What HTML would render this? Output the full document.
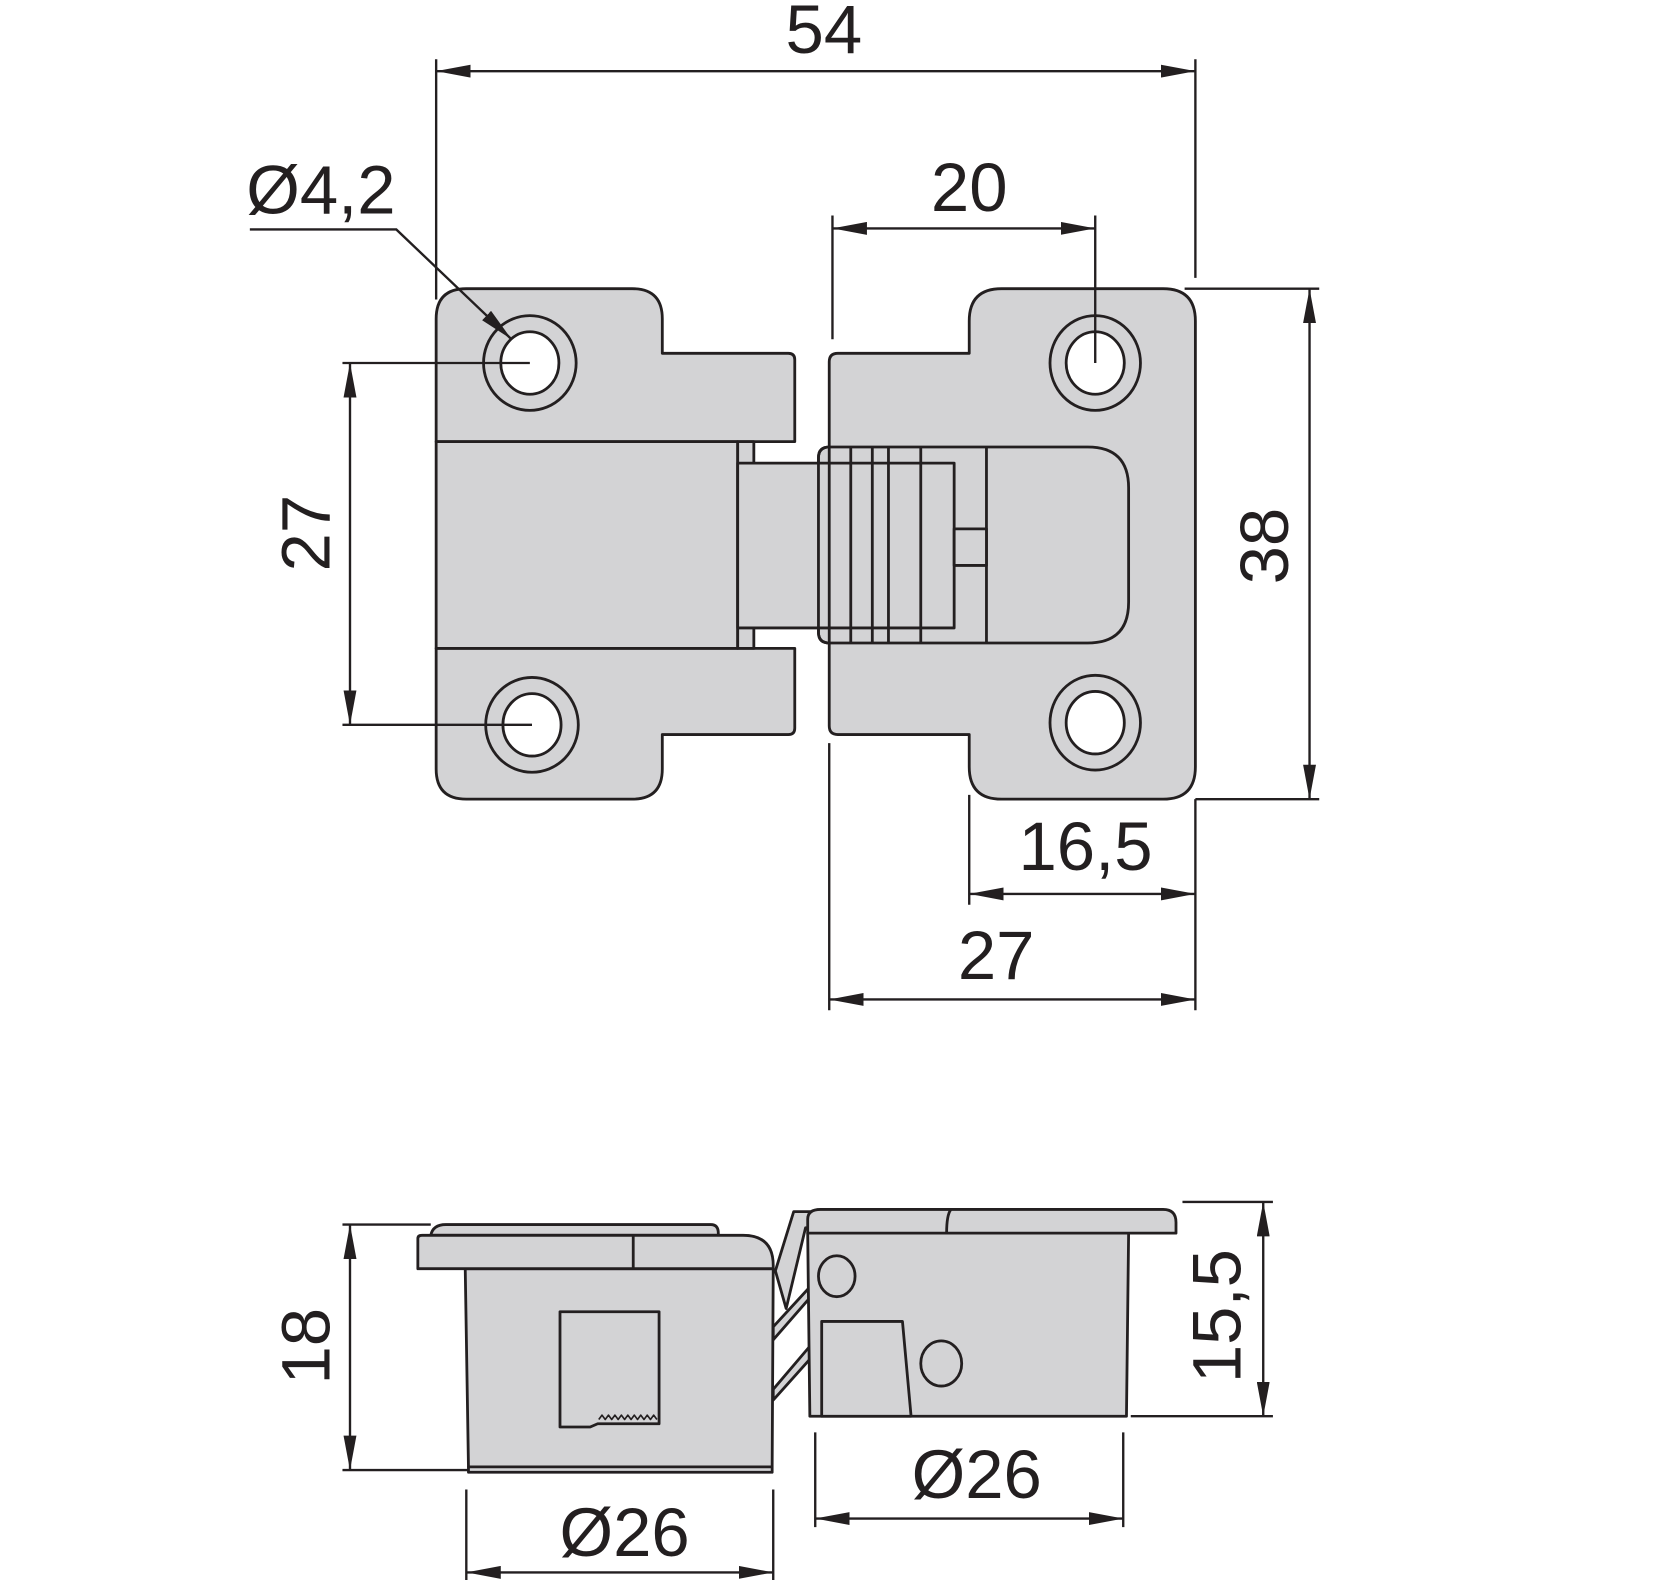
<!DOCTYPE html>
<html><head><meta charset="utf-8"><style>html,body{margin:0;padding:0;background:#fff}svg{display:block}</style></head>
<body>
<svg width="1680" height="1580" viewBox="0 0 1560 1467" xmlns="http://www.w3.org/2000/svg" font-family="Liberation Sans, sans-serif">
<defs>
<marker id="a" viewBox="0 0 32 12" refX="32" refY="6" markerWidth="32" markerHeight="12" markerUnits="userSpaceOnUse" orient="auto-start-reverse"><path d="M0,0 L32,6 L0,12 Z" fill="#231f20"/></marker>
</defs>
<g fill="#d3d3d5" stroke="#231f20" stroke-width="2.6" stroke-linejoin="round">
<path d="M405,296 Q405,268 433,268 L587,268 Q615,268 615,296 L615,328 L732,328 Q738,328 738,334 L738,410 L405,410 Z"/>
<path d="M405,602 L738,602 L738,676 Q738,682 732,682 L615,682 L615,714 Q615,742 587,742 L433,742 Q405,742 405,714 Z"/>
<rect x="405" y="410" width="280" height="192"/>
<rect x="685" y="410" width="15" height="192"/>
<path d="M778,328 L900,328 L900,298 Q900,268 930,268 L1080,268 Q1110,268 1110,298 L1110,712 Q1110,742 1080,742 L930,742 Q900,742 900,712 L900,682 L778,682 Q770,682 770,674 L770,336 Q770,328 778,328 Z"/>
<path d="M770,415 L1010,415 Q1048,415 1048,453 L1048,559 Q1048,597 1010,597 L770,597 Q760,597 760,587 L760,425 Q760,415 770,415 Z"/>
<rect x="685" y="430" width="201" height="153"/>
<path d="M760,425 Q760,415 770,415 L770,597 Q760,597 760,587 Z" fill="none"/>
<path d="M790,415 V597 M810,415 V597 M825,415 V597 M855,415 V597 M916,415 V597" fill="none"/>
<rect x="886" y="491" width="30" height="34"/>
<ellipse cx="492" cy="337" rx="43" ry="44"/><ellipse cx="492" cy="337" rx="27" ry="29" fill="#fff"/>
<ellipse cx="494" cy="673" rx="43" ry="44"/><ellipse cx="494" cy="673" rx="27" ry="29" fill="#fff"/>
<ellipse cx="1017" cy="337" rx="42" ry="44"/><ellipse cx="1017" cy="337" rx="27" ry="29" fill="#fff"/>
<ellipse cx="1017" cy="671" rx="42" ry="44"/><ellipse cx="1017" cy="671" rx="27" ry="29" fill="#fff"/>

<path d="M400,1147 Q402,1137 414,1137 L660,1137 Q667,1137 667,1145 L667,1147 Z"/>
<path d="M720,1180 L737,1125 L762,1125 L762,1140 L748,1140 L730,1215 Z"/>
<path d="M718,1232 L752,1195 L752,1205 L718,1244 Z"/>
<path d="M718,1290 L752,1250 L752,1262 L718,1300 Z"/>
<path d="M432,1178 L718,1178 L717,1362 L435,1362 Z"/>
<rect x="435" y="1362" width="282" height="5"/>
<path d="M388,1150 Q388,1147 392,1147 L690,1147 Q718,1147 718,1175 L718,1178 L388,1178 Z"/>
<path d="M588,1147 V1178" fill="none"/>
<path d="M520,1218 L612,1218 L612,1322 L555,1322 L548,1325 L520,1325 Z"/>
<path d="M556,1318 l3,-4 l3,4 l3,-4 l3,4 l3,-4 l3,4 l3,-4 l3,4 l3,-4 l3,4 l3,-4 l3,4 l3,-4 l3,4 l3,-4 l3,4 l3,-4 l3,4" fill="none" stroke-width="1.5"/>
<path d="M750,1145 L1048,1145 L1046,1315 L752,1315 Z"/>
<path d="M750,1145 L750,1132 Q750,1123 762,1123 L1080,1123 Q1092,1123 1092,1135 L1092,1145 Z"/>
<path d="M883,1123 Q879,1128 879,1145" fill="none"/>
<ellipse cx="777" cy="1185" rx="17" ry="19"/>
<ellipse cx="874" cy="1266" rx="19" ry="21"/>
<path d="M763,1227 L838,1227 L846,1315 L763,1315 Z"/>
</g>

<g stroke="#231f20" stroke-width="2.2" fill="none">
<path d="M405,55 V278 M1110,55 V258"/>
<path d="M405,66 H1110" marker-start="url(#a)" marker-end="url(#a)"/>
<path d="M232,213 H368 L475,315" marker-end="url(#a)"/>
<path d="M773,200 V315 M1017,200 V337"/>
<path d="M773,212 H1017" marker-start="url(#a)" marker-end="url(#a)"/>
<path d="M1100,268 H1225 M1110,742 H1225"/>
<path d="M1216,268 V742" marker-start="url(#a)" marker-end="url(#a)"/>
<path d="M318,337 H492 M318,673 H494"/>
<path d="M325,337 V673" marker-start="url(#a)" marker-end="url(#a)"/>
<path d="M900,738 V840 M1110,742 V938"/>
<path d="M900,830 H1110" marker-start="url(#a)" marker-end="url(#a)"/>
<path d="M770,690 V938"/>
<path d="M770,928 H1110" marker-start="url(#a)" marker-end="url(#a)"/>
<path d="M318,1137 H400 M318,1365 H435"/>
<path d="M325,1137 V1365" marker-start="url(#a)" marker-end="url(#a)"/>
<path d="M1098,1116 H1182 M1050,1315 H1182"/>
<path d="M1173,1116 V1315" marker-start="url(#a)" marker-end="url(#a)"/>
<path d="M433,1383 V1470 M718,1383 V1470"/>
<path d="M433,1460 H718" marker-start="url(#a)" marker-end="url(#a)"/>
<path d="M757,1330 V1418 M1043,1330 V1418"/>
<path d="M757,1410 H1043" marker-start="url(#a)" marker-end="url(#a)"/>
</g>

<g fill="#231f20" font-size="64" text-anchor="middle">
<text x="765" y="49">54</text>
<text x="298" y="198">Ø4,2</text>
<text x="900" y="196">20</text>
<text x="1008" y="808">16,5</text>
<text x="925" y="909">27</text>
<text x="580" y="1445">Ø26</text>
<text x="907" y="1391">Ø26</text>
<text transform="translate(1196,507) rotate(-90)">38</text>
<text transform="translate(306,495) rotate(-90)">27</text>
<text transform="translate(306,1250) rotate(-90)">18</text>
<text transform="translate(1152,1222) rotate(-90)">15,5</text>
</g>
</svg>
</body></html>
